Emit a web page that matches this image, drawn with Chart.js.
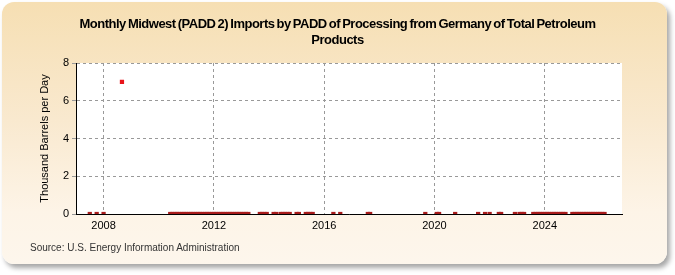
<!DOCTYPE html>
<html lang="en">
<head>
<meta charset="UTF-8">
<title>Monthly Midwest (PADD 2) Imports from Germany</title>
<script src="https://cdn.jsdelivr.net/npm/chart.js@4"></script>
<style>
  html, body { margin: 0; padding: 0; background: #ffffff; }
  .wrap { position: relative; width: 675px; height: 275px; overflow: hidden; }
  .panel {
    position: absolute; left: 2px; top: 2px; width: 665px; height: 262px;
    border-radius: 12px;
    background: linear-gradient(to bottom, #f6dfb3 0%, #f9e9cf 45%, #fdf4e7 80%, #fdf6ec 100%);
    box-shadow: 3px 4px 5px rgba(0,0,0,0.35);
  }
  canvas { position: absolute; left: 0; top: 0; }
  .title {
    position: absolute; left: 0; top: 16px; width: 675px; text-align: center;
    font: bold 13px/16px "Liberation Sans", Arial, sans-serif; color: #000;
    letter-spacing: -0.5px; word-spacing: -1px;
  }
  .source {
    position: absolute; left: 30px; top: 242px;
    font: 10px "Liberation Sans", Arial, sans-serif; color: #333;
  }
</style>
</head>
<body>
<div class="wrap">
  <div class="panel"></div>
  <canvas id="chart" width="675" height="275"></canvas>
  <div class="title" id="title"></div>
  <div class="source">Source: U.S. Energy Information Administration</div>
</div>
<script>
// monthly observations (gaps = no data reported)
const months = [
  "2007-07", "2007-10", "2008-01", "2008-09",
  "2010-06", "2010-07", "2010-08", "2010-09", "2010-10", "2010-11", "2010-12",
  "2011-01", "2011-02", "2011-03", "2011-04", "2011-05", "2011-06",
  "2011-07", "2011-08", "2011-09", "2011-10", "2011-11", "2011-12",
  "2012-01", "2012-02", "2012-03", "2012-04", "2012-05", "2012-06",
  "2012-07", "2012-08", "2012-09", "2012-10", "2012-11", "2012-12",
  "2013-01", "2013-02", "2013-03", "2013-04",
  "2013-09", "2013-10", "2013-11", "2013-12",
  "2014-03", "2014-04",
  "2014-06", "2014-07", "2014-08", "2014-09", "2014-10",
  "2015-01", "2015-02",
  "2015-05", "2015-06", "2015-07", "2015-08",
  "2016-05", "2016-08",
  "2017-08", "2017-09",
  "2019-09",
  "2020-02", "2020-03",
  "2020-10",
  "2021-08", "2021-11", "2022-01",
  "2022-05", "2022-06",
  "2022-12",
  "2023-02", "2023-03", "2023-04",
  "2023-08", "2023-09", "2023-10", "2023-11", "2023-12",
  "2024-01", "2024-02", "2024-03", "2024-04", "2024-05", "2024-06",
  "2024-07", "2024-08", "2024-09", "2024-10",
  "2025-01", "2025-02", "2025-03", "2025-04", "2025-05", "2025-06",
  "2025-07", "2025-08", "2025-09", "2025-10", "2025-11", "2025-12",
  "2026-01", "2026-02", "2026-03"
];

const importsKbd = [
  0, 0, 0, 7,
  0, 0, 0, 0, 0, 0, 0,
  0, 0, 0, 0, 0, 0,
  0, 0, 0, 0, 0, 0,
  0, 0, 0, 0, 0, 0,
  0, 0, 0, 0, 0, 0,
  0, 0, 0, 0,
  0, 0, 0, 0,
  0, 0,
  0, 0, 0, 0, 0,
  0, 0,
  0, 0, 0, 0,
  0, 0,
  0, 0,
  0,
  0, 0,
  0,
  0, 0, 0,
  0, 0,
  0,
  0, 0, 0,
  0, 0, 0, 0, 0,
  0, 0, 0, 0, 0, 0,
  0, 0, 0, 0,
  0, 0, 0, 0, 0, 0,
  0, 0, 0, 0, 0, 0,
  0, 0, 0
];

const yearTicks = [2008, 2012, 2016, 2020, 2024];
const yTicks = [0, 2, 4, 6, 8];

const titleLines = [
  "Monthly Midwest (PADD 2) Imports by PADD of Processing from Germany of Total Petroleum",
  "Products"
];
const yTitle = "Thousand Barrels per Day";

document.getElementById("title").innerHTML = titleLines.join("<br>");

function toYear(ym) {
  const [y, m] = ym.split("-").map(Number);
  return y + (m - 1) / 12;
}

const points = months.map((m, i) => ({ x: toYear(m), y: importsKbd[i] }));

const whitePlot = {
  id: "whitePlot",
  beforeDraw(chart) {
    const { ctx, chartArea: a } = chart;
    ctx.save();
    ctx.fillStyle = "#ffffff";
    ctx.fillRect(a.left, a.top, a.right - a.left, a.bottom - a.top);
    ctx.restore();
  }
};

const tickFont = { family: "'Liberation Sans', Arial, sans-serif", size: 11 };

new Chart(document.getElementById("chart"), {
  type: "scatter",
  data: {
    datasets: [{
      label: "Imports",
      data: points,
      pointStyle: "rect",
      pointRadius: 3,
      pointHoverRadius: 3,
      borderWidth: 0,
      backgroundColor: (c) => (c.raw && c.raw.y > 0 ? "#e8141a" : "#a81c1c")
    }]
  },
  options: {
    responsive: false,
    animation: false,
    layout: { padding: { top: 63, right: 53, bottom: 0, left: 0 } },
    plugins: {
      legend: { display: false },
      tooltip: { enabled: false },
      title: { display: false }
    },
    scales: {
      x: {
        type: "linear",
        min: 2007,
        max: 2026.8,
        afterBuildTicks: (s) => { s.ticks = yearTicks.map(v => ({ value: v })); },
        afterFit: (s) => { s.height = 61; },
        grid: { color: "#999999", drawTicks: false },
        border: { display: true, color: "#000", width: 1, dash: [3, 3] },
        ticks: { color: "#000", font: tickFont, padding: 5, maxRotation: 0, callback: (v) => String(v) }
      },
      y: {
        min: 0,
        max: 8,
        afterBuildTicks: (s) => { s.ticks = yTicks.map(v => ({ value: v })); },
        afterFit: (s) => { s.width = 76; },
        grid: { color: "#999999", tickLength: 4 },
        border: { display: true, color: "#000", width: 1, dash: [3, 3] },
        ticks: { color: "#000", font: tickFont, padding: 3 },
        title: {
          display: true,
          text: yTitle,
          color: "#000",
          font: tickFont,
          padding: { top: 38, bottom: 0 }
        }
      }
    }
  },
  plugins: [whitePlot]
});
</script>
</body>
</html>
